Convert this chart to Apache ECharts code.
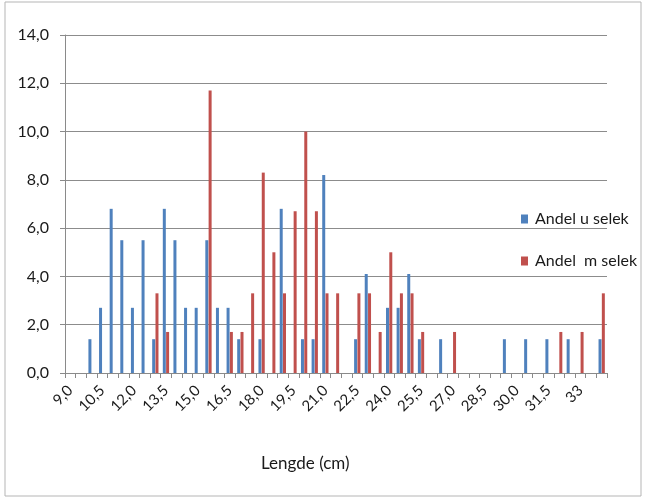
<!DOCTYPE html>
<html>
<head>
<meta charset="utf-8">
<script src="https://cdn.jsdelivr.net/npm/echarts@6/dist/echarts.min.js"></script>
<style>
html,body{margin:0;padding:0;background:#fff;}
#chart{width:646px;height:500px;}
</style>
</head>
<body>
<div id="chart"></div>
<script>
var categories = ["9,0","9,5","10,0","10,5","11,0","11,5","12,0","12,5","13,0","13,5",
  "14,0","14,5","15,0","15,5","16,0","16,5","17,0","17,5","18,0","18,5",
  "19,0","19,5","20,0","20,5","21,0","21,5","22,0","22,5","23,0","23,5",
  "24,0","24,5","25,0","25,5","26,0","26,5","27,0","27,5","28,0","28,5",
  "29,0","29,5","30,0","30,5","31,0","31,5","32,0","32,5","33","33,5","34,0"];
var seriesNames = ["Andel u selek", "Andel  m selek"];
var blueValues = [0,0,1.4,2.7,6.8,5.5,2.7,5.5,1.4,6.8,
  5.5,2.7,2.7,5.5,2.7,2.7,1.4,0,1.4,0,
  6.8,0,1.4,1.4,8.2,0,0,1.4,4.1,0,
  2.7,2.7,4.1,1.4,0,1.4,0,0,0,0,
  0,1.4,0,1.4,0,1.4,0,1.4,0,0,1.4];
var redValues = [0,0,0,0,0,0,0,0,3.3,1.7,
  0,0,0,11.7,0,1.7,1.7,3.3,8.3,5.0,
  3.3,6.7,10.0,6.7,3.3,3.3,0,3.3,3.3,1.7,
  5.0,3.3,3.3,1.7,0,0,1.7,0,0,0,
  0,0,0,0,0,0,1.7,0,1.7,0,3.3];
var yMin = 0, yMax = 14, yStep = 2;

var font = "Lato";
var chart = echarts.init(document.getElementById('chart'), null, {renderer: 'canvas'});
chart.setOption({
  animation: false,
  backgroundColor: '#ffffff',
  textStyle: {fontFamily: font},
  title: {
    text: 'Lengde (cm)',
    left: 256, top: 450,
    textStyle: {fontFamily: font, fontSize: 17, fontWeight: 'normal', color: '#1a1a1a'}
  },
  graphic: [{
    type: 'rect', shape: {x: 5, y: 2, width: 636, height: 494},
    style: {fill: 'none', stroke: '#b5b5b5', lineWidth: 1}, z: -1
  }],
  legend: {
    orient: 'vertical',
    left: 516, top: 206,
    itemWidth: 7, itemHeight: 9, itemGap: 26,
    icon: 'rect',
    textStyle: {fontFamily: font, fontSize: 16, color: '#1a1a1a', padding: [0,0,0,2]},
    data: seriesNames
  },
  grid: {left: 65, right: 39, top: 35, bottom: 127, containLabel: false},
  xAxis: {
    type: 'category',
    data: categories,
    boundaryGap: true,
    axisLine: {show: true, lineStyle: {color: '#8a8a8a', width: 1}},
    axisTick: {show: true, interval: 0, length: 5, lineStyle: {color: '#8a8a8a'}},
    axisLabel: {interval: 2, rotate: 45, fontSize: 15, color: '#1a1a1a', margin: 15, fontFamily: font},
    splitLine: {show: false}
  },
  yAxis: {
    type: 'value',
    min: yMin, max: yMax, interval: yStep,
    axisLine: {show: true, lineStyle: {color: '#8a8a8a', width: 1}},
    axisTick: {show: true, length: 5, lineStyle: {color: '#8a8a8a'}},
    axisLabel: {
      fontSize: 16, color: '#1a1a1a', margin: 16, fontFamily: font,
      formatter: function (v) { return v.toFixed(1).replace('.', ','); }
    },
    splitLine: {show: true, lineStyle: {color: '#8c8c8c', width: 1}}
  },
  series: [
    {name: seriesNames[0], type: 'bar', data: blueValues, barWidth: 3, barGap: '10%',
     itemStyle: {color: '#4f81bd'}},
    {name: seriesNames[1], type: 'bar', data: redValues, barWidth: 3, barGap: '10%',
     itemStyle: {color: '#c0504d'}}
  ]
});
</script>
</body>
</html>
